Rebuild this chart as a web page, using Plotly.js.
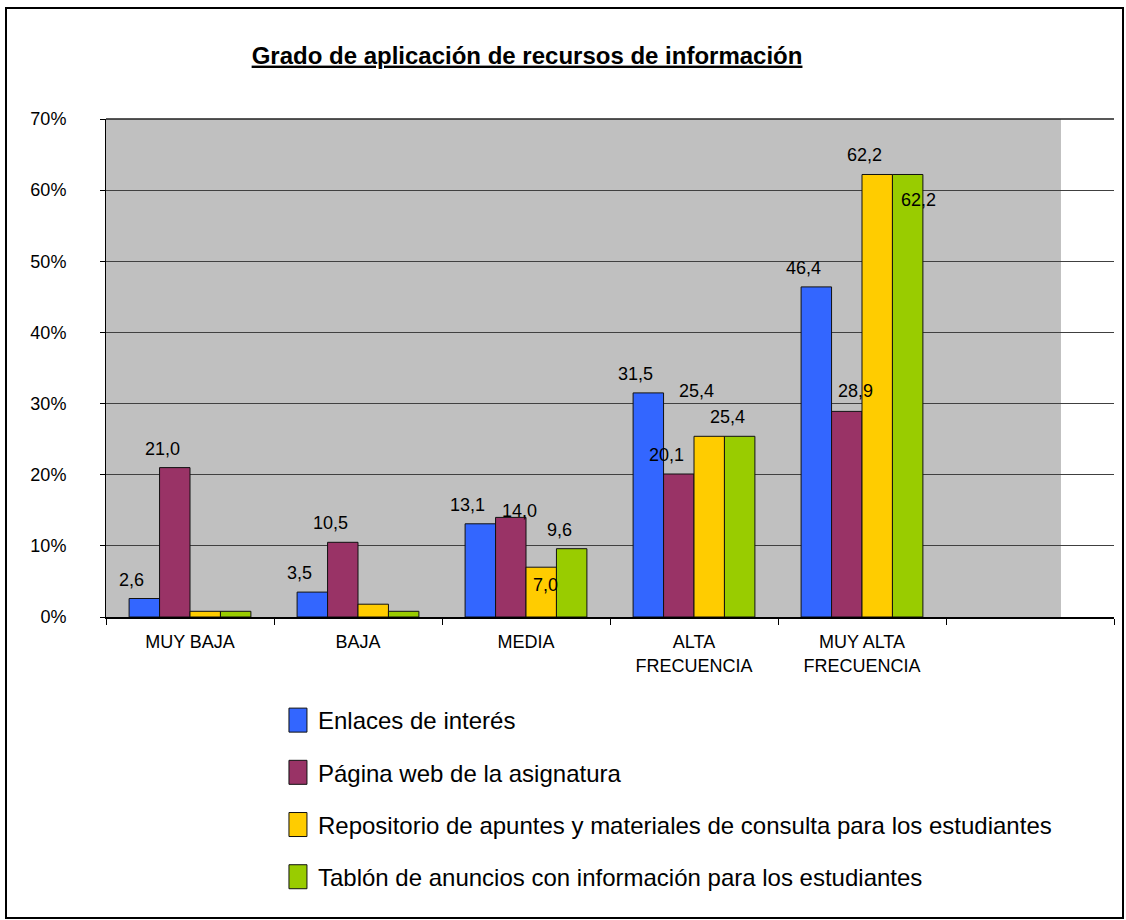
<!DOCTYPE html>
<html>
<head>
<meta charset="utf-8">
<script src="https://cdn.plot.ly/plotly-3.0.1.min.js"></script>
<style>
  html, body { margin: 0; padding: 0; background: #fff; }
  #wrap { position: relative; width: 1126px; height: 920px; }
  #chart { width: 1126px; height: 920px; }
  #frame { position: absolute; left: 5px; top: 7px; width: 1115px; height: 908px;
           border: 2px solid #000; pointer-events: none; }
</style>
</head>
<body>
<div id="wrap">
  <div id="chart"></div>
  <div id="frame"></div>
</div>
<script>
// ---- data ----
const categories = ['MUY BAJA', 'BAJA', 'MEDIA', 'ALTA<br>FRECUENCIA', 'MUY ALTA<br>FRECUENCIA', ' '];
const seriesNames = [
  'Enlaces de interés',
  'Página web de la asignatura',
  'Repositorio de apuntes y materiales de consulta para los estudiantes',
  'Tablón de anuncios con información para los estudiantes'
];
const enlaces     = [2.6, 3.5, 13.1, 31.5, 46.4];
const pagina      = [21.0, 10.5, 14.0, 20.1, 28.9];
const repositorio = [0.8, 1.8, 7.0, 25.4, 62.2];
const tablon      = [0.8, 0.8, 9.6, 25.4, 62.2];
const yTicks = [0, 10, 20, 30, 40, 50, 60, 70];
const yTickText = yTicks.map(v => v + '%');

// ---- styles ----
const colors = ['#3366FF', '#993366', '#FFCC00', '#99CC00'];
const FONT = 'Arial, "Liberation Sans", sans-serif';
const series = [enlaces, pagina, repositorio, tablon];
const BARGAP = 0.275;
// manual label nudges (px) keyed "series-category", like the dragged labels in the original
const labelNudge = { '1-2': [21, -13], '2-2': [17, -37], '2-3': [0, 26], '1-4': [21, 1], '3-4': [23, -45] };

const traces = series.map((vals, s) => ({
  type: 'bar',
  name: seriesNames[s],
  legendgroup: 'g' + s,
  x: categories,
  y: vals.concat([null]),
  marker: { color: colors[s], line: { color: '#111', width: 1 } },
  hoverinfo: 'x+y'
}));

const barW = (1 - BARGAP) / series.length;
const annotations = [];
series.forEach((vals, s) => {
  vals.forEach((v, c) => {
    if (v < 2) return;
    const n = labelNudge[s + '-' + c] || [0, 0];
    annotations.push({
      x: c + (s - (series.length - 1) / 2) * barW,
      y: v, xref: 'x', yref: 'y',
      text: v.toFixed(1).replace('.', ','),
      showarrow: false,
      xanchor: 'center', yanchor: 'middle',
      xshift: -12.5 + n[0], yshift: 19 + n[1],
      font: { family: FONT, size: 18, color: '#000' }
    });
  });
});

const layout = {
  width: 1126, height: 920,
  margin: { l: 106, r: 12, t: 119, b: 303, autoexpand: false },
  paper_bgcolor: '#fff',
  plot_bgcolor: 'rgba(0,0,0,0)',
  font: { family: FONT, color: '#000', size: 18 },
  title: {
    text: '<b><u>Grado de aplicación de recursos de información</u></b>',
    font: { family: FONT, size: 24, color: '#000' },
    xref: 'paper', x: 0.4177, xanchor: 'center',
    yref: 'container', y: 0.94, yanchor: 'middle'
  },
  barmode: 'group',
  bargap: BARGAP,
  bargroupgap: 0,
  showlegend: true,
  legend: {
    orientation: 'v',
    x: 0.1706, xanchor: 'left',
    y: -0.1627, yanchor: 'top',
    traceorder: 'grouped',
    tracegroupgap: 18,
    font: { family: FONT, size: 24, color: '#000' },
    bgcolor: 'rgba(0,0,0,0)'
  },
  xaxis: {
    type: 'category',
    tickson: 'boundaries',
    ticks: 'outside', ticklen: 6, tickcolor: '#000', tickwidth: 1,
    showline: true, linecolor: '#000', linewidth: 1.5,
    showgrid: false, zeroline: false,
    ticklabelstandoff: 8,
    tickfont: { family: FONT, size: 18, color: '#000' },
    range: [-0.5, 5.5]
  },
  yaxis: {
    range: [0, 70],
    tickmode: 'array',
    tickvals: yTicks,
    ticktext: yTickText,
    ticks: 'outside', ticklen: 5, tickcolor: '#000', tickwidth: 1,
    showline: true, linecolor: '#000', linewidth: 1,
    showgrid: true, gridcolor: '#404040', gridwidth: 1,
    zeroline: false,
    ticklabelstandoff: 30,
    tickfont: { family: FONT, size: 18, color: '#000' }
  },
  shapes: [{
    type: 'rect', xref: 'paper', yref: 'paper',
    x0: 0, x1: 0.9474, y0: 0, y1: 1,
    fillcolor: '#C0C0C0', line: { width: 0 }, layer: 'below'
  }, {
    type: 'line', xref: 'paper', yref: 'paper',
    x0: 0, x1: 1, y0: 1, y1: 1,
    line: { color: '#202020', width: 1.5 }, layer: 'above'
  }],
  annotations: annotations
};

Plotly.newPlot('chart', traces, layout, { displayModeBar: false }).then(gd => {
  // enlarge the legend swatches to the tall rectangles of the original
  gd.querySelectorAll('.legendpoints path').forEach(p => p.setAttribute('d', 'M9,12H-9V-12H9Z'));
});
</script>
</body>
</html>
